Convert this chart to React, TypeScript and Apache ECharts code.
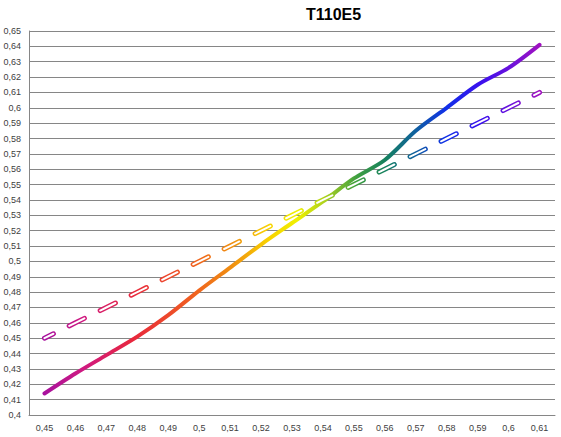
import React, { useEffect, useRef } from "react";
import * as echarts from "echarts";

const categories = ["0.45", "0.46", "0.47", "0.48", "0.49", "0.5", "0.51", "0.52", "0.53", "0.54", "0.55", "0.56", "0.57", "0.58", "0.59", "0.6", "0.61"];
const measured = [0.414, 0.427, 0.439, 0.451, 0.465, 0.481, 0.496, 0.511, 0.525, 0.539, 0.554, 0.566, 0.585, 0.6, 0.615, 0.626, 0.641];
const reference = [0.45, 0.46, 0.47, 0.48, 0.49, 0.5, 0.51, 0.52, 0.53, 0.54, 0.55, 0.56, 0.57, 0.58, 0.59, 0.6, 0.61];
const title = "T110E5";

const rainbow = () =>
  new echarts.graphic.LinearGradient(0, 0, 1, 0, [
    { offset: 0.0, color: "#a8129e" },
    { offset: 0.08, color: "#d01a80" },
    { offset: 0.18, color: "#e8283c" },
    { offset: 0.3, color: "#f06020" },
    { offset: 0.38, color: "#f09010" },
    { offset: 0.45, color: "#f8d000" },
    { offset: 0.51, color: "#f0f000" },
    { offset: 0.57, color: "#a8d020" },
    { offset: 0.63, color: "#40a040" },
    { offset: 0.69, color: "#158060" },
    { offset: 0.75, color: "#1060a0" },
    { offset: 0.81, color: "#1030e8" },
    { offset: 0.88, color: "#3a10ee" },
    { offset: 0.94, color: "#6a12dc" },
    { offset: 1.0, color: "#a010c0" },
  ]);

const fmt = (v: number) => parseFloat(Number(v).toFixed(2)).toString().replace(".", ",");

export default function App() {
  const ref = useRef<HTMLDivElement>(null);
  useEffect(() => {
    if (!ref.current) return;
    const chart = echarts.init(ref.current, null, { renderer: "svg" });
    const font = "'Liberation Sans', 'DejaVu Sans', sans-serif";
    chart.setOption({
      animation: false,
      backgroundColor: "#ffffff",
      title: {
        text: title,
        left: 301,
        top: 1,
        textStyle: { fontFamily: font, fontSize: 16, fontWeight: "bold", color: "#000000" },
      },
      grid: { left: 29, right: 6, top: 31, bottom: 22, containLabel: false },
      xAxis: {
        type: "category",
        data: categories,
        boundaryGap: true,
        axisLine: { show: true, lineStyle: { color: "#868686", width: 1 } },
        axisTick: { show: false },
        splitLine: { show: false },
        axisLabel: {
          formatter: (v: string) => fmt(parseFloat(v)),
          fontFamily: font,
          fontSize: 9,
          color: "#404040",
          margin: 8,
          interval: 0,
        },
      },
      yAxis: {
        type: "value",
        min: 0.4,
        max: 0.65,
        interval: 0.01,
        axisLine: { show: true, lineStyle: { color: "#868686", width: 1 } },
        axisTick: { show: false },
        splitLine: { show: true, lineStyle: { color: "#868686", width: 1 } },
        axisLabel: {
          formatter: (v: number) => fmt(v),
          fontFamily: font,
          fontSize: 9,
          color: "#404040",
          margin: 8,
        },
      },
      series: [
        {
          type: "line",
          data: measured,
          smooth: 0.3,
          showSymbol: false,
          symbol: "none",
          lineStyle: { width: 4, color: rainbow(), cap: "round", join: "round" },
          z: 2,
        },
        {
          type: "line",
          data: reference,
          showSymbol: false,
          symbol: "none",
          lineStyle: { width: 5, color: rainbow(), type: [17, 17.6], dashOffset: 7, cap: "round" },
          z: 3,
        },
        {
          type: "line",
          data: reference,
          showSymbol: false,
          symbol: "none",
          lineStyle: { width: 2, color: "#ffffff", type: [17, 17.6], dashOffset: 7, cap: "round" },
          z: 4,
        },
      ],
    });
    return () => chart.dispose();
  }, []);
  return (
    <div
      ref={ref}
      style={{ position: "fixed", left: 0, top: 0, width: 561, height: 437, background: "#fff" }}
    />
  );
}
